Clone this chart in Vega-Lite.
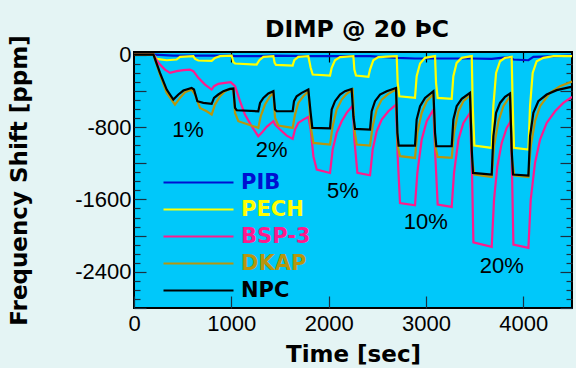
{
  "$schema": "https://vega.github.io/schema/vega-lite/v6.json",
  "width": 438,
  "height": 256,
  "autosize": "none",
  "padding": {"left": 134, "top": 52, "right": 4, "bottom": 60},
  "background": "#e4f4f4",
  "title": {"text": "DIMP  @ 20 ÞC", "font": "DejaVu Sans", "fontSize": 23.5, "fontWeight": "bold", "color": "black", "anchor": "middle", "frame": "group", "offset": 10, "dy": 17, "dx": 4},
  "config": {
    "view": {"stroke": "black", "strokeWidth": 2, "fill": "#00c8fa"},
    "axis": {"domain": false, "grid": false}
  },
  "datasets": {
    "series": [
      {"s":"PIB","t":0,"v":0},{"s":"PIB","t":200,"v":0},{"s":"PIB","t":404,"v":-9},{"s":"PIB","t":1003,"v":-9},{"s":"PIB","t":1038,"v":-16},{"s":"PIB","t":1277,"v":-16},{"s":"PIB","t":1432,"v":-9},{"s":"PIB","t":1826,"v":-16},{"s":"PIB","t":2014,"v":-16},{"s":"PIB","t":2254,"v":-16},{"s":"PIB","t":2425,"v":-16},{"s":"PIB","t":2706,"v":-35},{"s":"PIB","t":2887,"v":-42},{"s":"PIB","t":3093,"v":-42},{"s":"PIB","t":3264,"v":-42},{"s":"PIB","t":3470,"v":-42},{"s":"PIB","t":3675,"v":-46},{"s":"PIB","t":3863,"v":-24},{"s":"PIB","t":3898,"v":-53},{"s":"PIB","t":4052,"v":-61},{"s":"PIB","t":4103,"v":-24},{"s":"PIB","t":4500,"v":-9},

      {"s":"PECH","t":0,"v":0},{"s":"PECH","t":200,"v":0},{"s":"PECH","t":233,"v":-46},{"s":"PECH","t":336,"v":-61},{"s":"PECH","t":438,"v":-53},{"s":"PECH","t":473,"v":-24},{"s":"PECH","t":610,"v":-16},{"s":"PECH","t":627,"v":-46},{"s":"PECH","t":661,"v":-64},{"s":"PECH","t":798,"v":-68},{"s":"PECH","t":832,"v":-35},{"s":"PECH","t":884,"v":-16},{"s":"PECH","t":1003,"v":-9},
      {"s":"PECH","t":1021,"v":-83},{"s":"PECH","t":1038,"v":-97},{"s":"PECH","t":1260,"v":-109},{"s":"PECH","t":1288,"v":-61},{"s":"PECH","t":1329,"v":-24},{"s":"PECH","t":1432,"v":-16},
      {"s":"PECH","t":1445,"v":-90},{"s":"PECH","t":1459,"v":-112},{"s":"PECH","t":1630,"v":-120},{"s":"PECH","t":1647,"v":-61},{"s":"PECH","t":1688,"v":-24},{"s":"PECH","t":1791,"v":-16},
      {"s":"PECH","t":1815,"v":-145},{"s":"PECH","t":1836,"v":-219},{"s":"PECH","t":2014,"v":-230},{"s":"PECH","t":2031,"v":-145},{"s":"PECH","t":2065,"v":-61},{"s":"PECH","t":2117,"v":-27},{"s":"PECH","t":2254,"v":-16},
      {"s":"PECH","t":2264,"v":-164},{"s":"PECH","t":2281,"v":-230},{"s":"PECH","t":2408,"v":-245},{"s":"PECH","t":2425,"v":-164},{"s":"PECH","t":2459,"v":-61},{"s":"PECH","t":2510,"v":-27},{"s":"PECH","t":2699,"v":-16},
      {"s":"PECH","t":2709,"v":-311},{"s":"PECH","t":2726,"v":-459},{"s":"PECH","t":2887,"v":-477},{"s":"PECH","t":2904,"v":-238},{"s":"PECH","t":2939,"v":-97},{"s":"PECH","t":2990,"v":-35},{"s":"PECH","t":3093,"v":-16},
      {"s":"PECH","t":3103,"v":-311},{"s":"PECH","t":3120,"v":-477},{"s":"PECH","t":3264,"v":-488},{"s":"PECH","t":3281,"v":-238},{"s":"PECH","t":3315,"v":-90},{"s":"PECH","t":3367,"v":-35},{"s":"PECH","t":3470,"v":-16},
      {"s":"PECH","t":3480,"v":-569},{"s":"PECH","t":3497,"v":-1004},{"s":"PECH","t":3675,"v":-1030},{"s":"PECH","t":3692,"v":-569},{"s":"PECH","t":3720,"v":-201},{"s":"PECH","t":3761,"v":-72},{"s":"PECH","t":3812,"v":-35},{"s":"PECH","t":3880,"v":-24},
      {"s":"PECH","t":3891,"v":-569},{"s":"PECH","t":3904,"v":-1030},{"s":"PECH","t":4052,"v":-1049},{"s":"PECH","t":4069,"v":-569},{"s":"PECH","t":4096,"v":-201},{"s":"PECH","t":4137,"v":-72},{"s":"PECH","t":4206,"v":-35},{"s":"PECH","t":4309,"v":-16},{"s":"PECH","t":4500,"v":-16},

      {"s":"BSP-3","t":0,"v":0},{"s":"BSP-3","t":200,"v":0},{"s":"BSP-3","t":250,"v":-90},{"s":"BSP-3","t":318,"v":-164},{"s":"BSP-3","t":370,"v":-201},{"s":"BSP-3","t":438,"v":-182},{"s":"BSP-3","t":507,"v":-171},{"s":"BSP-3","t":575,"v":-164},{"s":"BSP-3","t":610,"v":-182},{"s":"BSP-3","t":661,"v":-256},{"s":"BSP-3","t":730,"v":-330},{"s":"BSP-3","t":798,"v":-385},{"s":"BSP-3","t":822,"v":-348},{"s":"BSP-3","t":866,"v":-322},{"s":"BSP-3","t":935,"v":-311},{"s":"BSP-3","t":993,"v":-304},
      {"s":"BSP-3","t":1038,"v":-348},{"s":"BSP-3","t":1089,"v":-514},{"s":"BSP-3","t":1140,"v":-662},{"s":"BSP-3","t":1209,"v":-791},{"s":"BSP-3","t":1277,"v":-901},{"s":"BSP-3","t":1312,"v":-864},{"s":"BSP-3","t":1363,"v":-798},{"s":"BSP-3","t":1432,"v":-735},
      {"s":"BSP-3","t":1449,"v":-772},{"s":"BSP-3","t":1500,"v":-827},{"s":"BSP-3","t":1569,"v":-894},{"s":"BSP-3","t":1630,"v":-931},{"s":"BSP-3","t":1654,"v":-827},{"s":"BSP-3","t":1688,"v":-754},{"s":"BSP-3","t":1740,"v":-717},{"s":"BSP-3","t":1791,"v":-687},
      {"s":"BSP-3","t":1815,"v":-827},{"s":"BSP-3","t":1843,"v":-1122},{"s":"BSP-3","t":1877,"v":-1270},{"s":"BSP-3","t":2014,"v":-1307},{"s":"BSP-3","t":2041,"v":-1049},{"s":"BSP-3","t":2082,"v":-864},{"s":"BSP-3","t":2134,"v":-735},{"s":"BSP-3","t":2185,"v":-643},{"s":"BSP-3","t":2247,"v":-562},
      {"s":"BSP-3","t":2264,"v":-938},{"s":"BSP-3","t":2295,"v":-1307},{"s":"BSP-3","t":2425,"v":-1333},{"s":"BSP-3","t":2452,"v":-1049},{"s":"BSP-3","t":2493,"v":-846},{"s":"BSP-3","t":2545,"v":-717},{"s":"BSP-3","t":2613,"v":-625},{"s":"BSP-3","t":2692,"v":-551},
      {"s":"BSP-3","t":2709,"v":-1122},{"s":"BSP-3","t":2733,"v":-1639},{"s":"BSP-3","t":2887,"v":-1664},{"s":"BSP-3","t":2911,"v":-1307},{"s":"BSP-3","t":2956,"v":-938},{"s":"BSP-3","t":3007,"v":-735},{"s":"BSP-3","t":3076,"v":-606},
      {"s":"BSP-3","t":3096,"v":-1122},{"s":"BSP-3","t":3120,"v":-1657},{"s":"BSP-3","t":3264,"v":-1683},{"s":"BSP-3","t":3288,"v":-1307},{"s":"BSP-3","t":3333,"v":-938},{"s":"BSP-3","t":3384,"v":-754},{"s":"BSP-3","t":3452,"v":-643},
      {"s":"BSP-3","t":3473,"v":-1307},{"s":"BSP-3","t":3487,"v":-2074},{"s":"BSP-3","t":3675,"v":-2125},{"s":"BSP-3","t":3699,"v":-1602},{"s":"BSP-3","t":3733,"v":-1233},{"s":"BSP-3","t":3778,"v":-975},{"s":"BSP-3","t":3829,"v":-809},{"s":"BSP-3","t":3870,"v":-735},
      {"s":"BSP-3","t":3884,"v":-1307},{"s":"BSP-3","t":3898,"v":-2099},{"s":"BSP-3","t":4052,"v":-2136},{"s":"BSP-3","t":4076,"v":-1602},{"s":"BSP-3","t":4120,"v":-1196},{"s":"BSP-3","t":4172,"v":-938},{"s":"BSP-3","t":4240,"v":-754},{"s":"BSP-3","t":4326,"v":-625},{"s":"BSP-3","t":4411,"v":-533},{"s":"BSP-3","t":4500,"v":-466},

      {"s":"DKAP","t":0,"v":0},{"s":"DKAP","t":200,"v":0},{"s":"DKAP","t":267,"v":-219},{"s":"DKAP","t":336,"v":-422},{"s":"DKAP","t":421,"v":-551},{"s":"DKAP","t":473,"v":-477},{"s":"DKAP","t":524,"v":-415},{"s":"DKAP","t":592,"v":-385},{"s":"DKAP","t":627,"v":-440},{"s":"DKAP","t":678,"v":-588},{"s":"DKAP","t":747,"v":-625},{"s":"DKAP","t":798,"v":-662},{"s":"DKAP","t":832,"v":-551},{"s":"DKAP","t":884,"v":-459},{"s":"DKAP","t":935,"v":-403},{"s":"DKAP","t":986,"v":-378},{"s":"DKAP","t":1021,"v":-385},
      {"s":"DKAP","t":1038,"v":-643},{"s":"DKAP","t":1072,"v":-735},{"s":"DKAP","t":1277,"v":-809},{"s":"DKAP","t":1302,"v":-680},{"s":"DKAP","t":1346,"v":-551},{"s":"DKAP","t":1397,"v":-459},{"s":"DKAP","t":1432,"v":-422},
      {"s":"DKAP","t":1449,"v":-698},{"s":"DKAP","t":1483,"v":-783},{"s":"DKAP","t":1630,"v":-809},{"s":"DKAP","t":1654,"v":-662},{"s":"DKAP","t":1688,"v":-533},{"s":"DKAP","t":1740,"v":-459},{"s":"DKAP","t":1791,"v":-403},
      {"s":"DKAP","t":1815,"v":-791},{"s":"DKAP","t":1843,"v":-975},{"s":"DKAP","t":2014,"v":-993},{"s":"DKAP","t":2041,"v":-791},{"s":"DKAP","t":2082,"v":-606},{"s":"DKAP","t":2134,"v":-496},{"s":"DKAP","t":2185,"v":-433},{"s":"DKAP","t":2247,"v":-385},
      {"s":"DKAP","t":2264,"v":-827},{"s":"DKAP","t":2288,"v":-993},{"s":"DKAP","t":2425,"v":-1004},{"s":"DKAP","t":2452,"v":-791},{"s":"DKAP","t":2493,"v":-606},{"s":"DKAP","t":2545,"v":-496},{"s":"DKAP","t":2613,"v":-433},{"s":"DKAP","t":2692,"v":-385},
      {"s":"DKAP","t":2709,"v":-1012},{"s":"DKAP","t":2733,"v":-1122},{"s":"DKAP","t":2887,"v":-1141},{"s":"DKAP","t":2911,"v":-864},{"s":"DKAP","t":2956,"v":-643},{"s":"DKAP","t":3007,"v":-514},{"s":"DKAP","t":3076,"v":-433},
      {"s":"DKAP","t":3096,"v":-1012},{"s":"DKAP","t":3120,"v":-1130},{"s":"DKAP","t":3264,"v":-1141},{"s":"DKAP","t":3288,"v":-864},{"s":"DKAP","t":3333,"v":-625},{"s":"DKAP","t":3384,"v":-514},{"s":"DKAP","t":3452,"v":-451},
      {"s":"DKAP","t":3473,"v":-1159},{"s":"DKAP","t":3497,"v":-1325},{"s":"DKAP","t":3675,"v":-1351},{"s":"DKAP","t":3699,"v":-1012},{"s":"DKAP","t":3744,"v":-735},{"s":"DKAP","t":3795,"v":-569},{"s":"DKAP","t":3863,"v":-459},
      {"s":"DKAP","t":3884,"v":-1159},{"s":"DKAP","t":3908,"v":-1336},{"s":"DKAP","t":4052,"v":-1351},{"s":"DKAP","t":4076,"v":-1012},{"s":"DKAP","t":4120,"v":-735},{"s":"DKAP","t":4172,"v":-569},{"s":"DKAP","t":4274,"v":-422},{"s":"DKAP","t":4377,"v":-348},{"s":"DKAP","t":4500,"v":-297},

      {"s":"NPC","t":0,"v":0},{"s":"NPC","t":200,"v":0},{"s":"NPC","t":267,"v":-201},{"s":"NPC","t":336,"v":-385},{"s":"NPC","t":404,"v":-496},{"s":"NPC","t":456,"v":-440},{"s":"NPC","t":507,"v":-396},{"s":"NPC","t":592,"v":-367},{"s":"NPC","t":616,"v":-385},{"s":"NPC","t":651,"v":-514},{"s":"NPC","t":712,"v":-533},{"s":"NPC","t":798,"v":-544},{"s":"NPC","t":822,"v":-477},{"s":"NPC","t":866,"v":-440},{"s":"NPC","t":918,"v":-403},{"s":"NPC","t":986,"v":-378},{"s":"NPC","t":1021,"v":-374},
      {"s":"NPC","t":1038,"v":-588},{"s":"NPC","t":1055,"v":-614},{"s":"NPC","t":1277,"v":-625},{"s":"NPC","t":1295,"v":-533},{"s":"NPC","t":1329,"v":-477},{"s":"NPC","t":1380,"v":-429},{"s":"NPC","t":1432,"v":-403},
      {"s":"NPC","t":1449,"v":-606},{"s":"NPC","t":1466,"v":-625},{"s":"NPC","t":1630,"v":-625},{"s":"NPC","t":1644,"v":-514},{"s":"NPC","t":1671,"v":-459},{"s":"NPC","t":1723,"v":-422},{"s":"NPC","t":1791,"v":-385},
      {"s":"NPC","t":1815,"v":-643},{"s":"NPC","t":1832,"v":-809},{"s":"NPC","t":2014,"v":-813},{"s":"NPC","t":2031,"v":-606},{"s":"NPC","t":2065,"v":-514},{"s":"NPC","t":2117,"v":-440},{"s":"NPC","t":2168,"v":-403},{"s":"NPC","t":2236,"v":-378},
      {"s":"NPC","t":2254,"v":-680},{"s":"NPC","t":2271,"v":-820},{"s":"NPC","t":2425,"v":-827},{"s":"NPC","t":2442,"v":-625},{"s":"NPC","t":2476,"v":-514},{"s":"NPC","t":2528,"v":-440},{"s":"NPC","t":2596,"v":-403},{"s":"NPC","t":2692,"v":-367},
      {"s":"NPC","t":2706,"v":-864},{"s":"NPC","t":2719,"v":-1004},{"s":"NPC","t":2887,"v":-1004},{"s":"NPC","t":2904,"v":-717},{"s":"NPC","t":2939,"v":-569},{"s":"NPC","t":2990,"v":-477},{"s":"NPC","t":3076,"v":-403},
      {"s":"NPC","t":3093,"v":-864},{"s":"NPC","t":3106,"v":-1012},{"s":"NPC","t":3264,"v":-1012},{"s":"NPC","t":3281,"v":-717},{"s":"NPC","t":3315,"v":-569},{"s":"NPC","t":3367,"v":-488},{"s":"NPC","t":3452,"v":-422},
      {"s":"NPC","t":3470,"v":-1049},{"s":"NPC","t":3483,"v":-1307},{"s":"NPC","t":3675,"v":-1325},{"s":"NPC","t":3692,"v":-901},{"s":"NPC","t":3720,"v":-643},{"s":"NPC","t":3761,"v":-533},{"s":"NPC","t":3812,"v":-466},{"s":"NPC","t":3863,"v":-429},
      {"s":"NPC","t":3880,"v":-1049},{"s":"NPC","t":3894,"v":-1325},{"s":"NPC","t":4052,"v":-1336},{"s":"NPC","t":4069,"v":-901},{"s":"NPC","t":4103,"v":-643},{"s":"NPC","t":4154,"v":-514},{"s":"NPC","t":4240,"v":-440},{"s":"NPC","t":4343,"v":-392},{"s":"NPC","t":4480,"v":-359},{"s":"NPC","t":4500,"v":-355}
    ],
    "notes": [
      {"t":555,"v":-827,"label":"1%"},
      {"t":1415,"v":-1049,"label":"2%"},
      {"t":2147,"v":-1510,"label":"5%"},
      {"t":2997,"v":-1853,"label":"10%"},
      {"t":3778,"v":-2332,"label":"20%"}
    ]
  },
  "layer": [
    {
      "data": {"name": "series"},
      "mark": {"type": "line", "strokeWidth": 2.2, "clip": true},
      "encoding": {
        "x": {"field": "t", "type": "quantitative",
          "scale": {"domain": [0, 4500], "nice": false, "zero": false},
          "axis": {"orient": "bottom", "values": [0, 1000, 2000, 3000, 4000], "format": "d",
            "tickSize": -12, "tickColor": "#1a3040", "tickWidth": 1.2,
            "labelPadding": 17, "labelFont": "Liberation Sans", "labelFontSize": 22, "labelColor": "black", "labelFlush": false, "labelOverlap": false,
            "title": "Time [sec]", "titleFont": "DejaVu Sans", "titleFontSize": 23, "titleFontWeight": "bold", "titleColor": "black", "titlePadding": 9}},
        "y": {"field": "v", "type": "quantitative",
          "scale": {"domain": [-2800, 30], "nice": false, "zero": false},
          "axis": {"orient": "left",
            "values": [-2800,-2700,-2600,-2500,-2400,-2300,-2200,-2100,-2000,-1900,-1800,-1700,-1600,-1500,-1400,-1300,-1200,-1100,-1000,-900,-800,-700,-600,-500,-400,-300,-200,-100,0],
            "tickSize": {"condition": {"test": "datum.value % 400 === 0", "value": -12}, "value": -6},
            "tickColor": "#1a3040", "tickWidth": 1.2,
            "labelExpr": "datum.value % 800 === 0 ? '' + datum.value : ''",
            "labelPadding": 15, "labelFont": "Liberation Sans", "labelFontSize": 22, "labelColor": "black", "labelOverlap": false, "labelFlush": false,
            "title": "Frequency Shift [ppm]", "titleFont": "DejaVu Sans", "titleFontSize": 23, "titleFontWeight": "bold", "titleColor": "black", "titlePadding": 43}},
        "color": {"field": "s", "type": "nominal",
          "scale": {"domain": ["PIB", "PECH", "BSP-3", "DKAP", "NPC"], "range": ["#0010d0", "#ffff00", "#ff1a8c", "#b8960c", "#000000"]},
          "legend": {"orient": "none", "legendX": 54, "legendY": 120, "title": null,
            "symbolType": "M-5,0H5", "symbolSize": 196, "symbolStrokeWidth": 2,
            "labelFont": "DejaVu Sans", "labelFontSize": 21, "labelFontWeight": "bold", "labelOffset": 32, "labelLimit": 200,
            "rowPadding": 5, "padding": 0,
            "encode": {"labels": {"update": {"fill": {"scale": "color", "field": "value"}}}}}}
      }
    },
    {
      "data": {"name": "notes"},
      "mark": {"type": "text", "font": "Liberation Sans", "fontSize": 22, "color": "black", "align": "center", "baseline": "middle"},
      "encoding": {
        "x": {"field": "t", "type": "quantitative",
          "axis": {"orient": "top", "values": [1000, 2000, 3000, 4000], "tickSize": -10, "tickColor": "#000000", "tickWidth": 1.2, "labels": false, "title": null}},
        "y": {"field": "v", "type": "quantitative",
          "axis": {"orient": "right",
            "values": [-2800,-2700,-2600,-2500,-2400,-2300,-2200,-2100,-2000,-1900,-1800,-1700,-1600,-1500,-1400,-1300,-1200,-1100,-1000,-900,-800,-700,-600,-500,-400,-300,-200,-100,0],
            "tickSize": {"condition": {"test": "datum.value % 400 === 0", "value": -12}, "value": -6},
            "tickColor": "#1a3040", "tickWidth": 1.2, "labels": false, "title": null}},
        "text": {"field": "label"}
      }
    }
  ],
  "resolve": {"axis": {"x": "independent", "y": "independent"}}
}
